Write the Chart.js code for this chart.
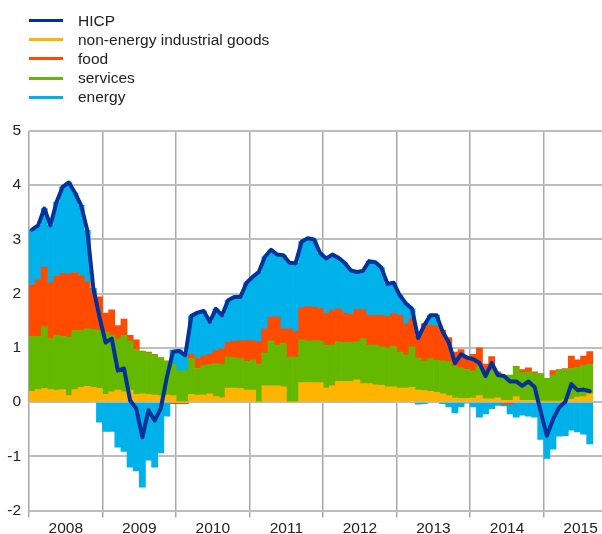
<!DOCTYPE html>
<html>
<head>
<meta charset="utf-8">
<script src="https://cdn.jsdelivr.net/npm/chart.js@4.4.1/dist/chart.umd.min.js"></script>
<style>
  html, body { margin: 0; padding: 0; background: #fff; }
  #wrap { position: relative; width: 602px; height: 534px; }
  #legend { position: absolute; left: 29px; top: 11px; font: 15.5px 'Liberation Sans', Arial, sans-serif; color: #222; }
  .row { display: flex; align-items: center; height: 19.2px; white-space: nowrap; }
  .sw { width: 34px; height: 3px; margin-right: 15px; }
</style>
</head>
<body>
<div id="wrap">
  <canvas id="chart" width="602" height="534"></canvas>
  <div id="legend"></div>
</div>
<script>
// monthly, Jan 2008 .. Aug 2015 (percentage points)
const yearLabels = ['2008', '2009', '2010', '2011', '2012', '2013', '2014', '2015'];

const hicp = [
  3.18, 3.26, 3.57, 3.26, 3.69, 3.97, 4.05, 3.86, 3.63, 3.17, 2.10, 1.57,
  1.10, 1.17, 0.58, 0.62, 0.03, -0.12, -0.65, -0.15, -0.34, -0.12, 0.46, 0.93,
  0.94, 0.86, 1.59, 1.65, 1.68, 1.48, 1.72, 1.60, 1.88, 1.94, 1.94, 2.20,
  2.31, 2.40, 2.68, 2.81, 2.72, 2.71, 2.57, 2.56, 2.96, 3.02, 3.00, 2.75,
  2.65, 2.72, 2.66, 2.57, 2.43, 2.40, 2.42, 2.60, 2.58, 2.48, 2.18, 2.20,
  1.97, 1.82, 1.72, 1.18, 1.42, 1.60, 1.60, 1.30, 1.10, 0.72, 0.88, 0.82,
  0.79, 0.72, 0.48, 0.72, 0.50, 0.48, 0.38, 0.38, 0.30, 0.38, 0.28, -0.18,
  -0.62, -0.32, -0.10, 0.00, 0.33, 0.22, 0.23, 0.20
];

const neig = [
  0.20, 0.23, 0.25, 0.23, 0.22, 0.23, 0.12, 0.23, 0.27, 0.29, 0.27, 0.25,
  0.14, 0.19, 0.22, 0.19, 0.22, 0.14, 0.15, 0.14, 0.13, 0.12, 0.13, 0.12,
  0.00, 0.00, 0.14, 0.13, 0.13, 0.15, 0.10, 0.08, 0.26, 0.26, 0.25, 0.22,
  0.22, 0.00, 0.30, 0.30, 0.30, 0.28, 0.00, 0.00, 0.36, 0.36, 0.36, 0.36,
  0.26, 0.30, 0.38, 0.38, 0.38, 0.41, 0.34, 0.34, 0.32, 0.31, 0.28, 0.28,
  0.26, 0.26, 0.27, 0.22, 0.21, 0.20, 0.18, 0.15, 0.12, 0.08, 0.07, 0.07,
  0.08, 0.12, 0.06, 0.06, 0.08, 0.03, 0.03, 0.10, 0.03, 0.03, 0.03, 0.01,
  0.01, 0.01, 0.01, 0.04, 0.05, 0.09, 0.10, 0.15
];

const services = [
  1.01, 0.98, 1.14, 0.94, 1.01, 0.98, 1.08, 1.09, 1.05, 1.06, 1.07, 1.07,
  1.15, 1.05, 0.94, 1.04, 0.91, 0.83, 0.78, 0.77, 0.74, 0.69, 0.62, 0.58,
  0.58, 0.58, 0.66, 0.49, 0.55, 0.54, 0.61, 0.62, 0.57, 0.56, 0.55, 0.53,
  0.56, 0.70, 0.61, 0.83, 0.75, 0.80, 0.83, 0.83, 0.79, 0.77, 0.77, 0.77,
  0.79, 0.75, 0.73, 0.72, 0.72, 0.70, 0.83, 0.71, 0.73, 0.71, 0.72, 0.75,
  0.66, 0.61, 0.75, 0.59, 0.55, 0.60, 0.59, 0.61, 0.62, 0.58, 0.56, 0.53,
  0.49, 0.54, 0.49, 0.52, 0.44, 0.47, 0.47, 0.55, 0.52, 0.53, 0.50, 0.51,
  0.43, 0.49, 0.57, 0.56, 0.57, 0.55, 0.58, 0.55
];

const food = [
  0.95, 1.04, 1.10, 1.03, 1.09, 1.16, 1.16, 1.07, 1.01, 0.87, 0.69, 0.62,
  0.35, 0.46, 0.25, 0.30, 0.10, 0.18, 0.01, 0.01, 0.01, 0.01, 0.01, -0.03,
  -0.03, -0.03, 0.08, 0.18, 0.17, 0.19, 0.24, 0.28, 0.27, 0.30, 0.33, 0.39,
  0.35, 0.41, 0.44, 0.44, 0.52, 0.27, 0.52, 0.47, 0.59, 0.63, 0.62, 0.60,
  0.58, 0.64, 0.61, 0.54, 0.52, 0.60, 0.53, 0.55, 0.55, 0.58, 0.58, 0.60,
  0.68, 0.57, 0.52, 0.41, 0.69, 0.62, 0.63, 0.57, 0.45, 0.26, 0.34, 0.24,
  0.31, 0.34, 0.15, 0.26, 0.04, -0.04, -0.04, 0.01, 0.05, 0.07, 0.03, 0.00,
  0.00, 0.08, 0.02, 0.02, 0.23, 0.14, 0.17, 0.23
];

const energy = [
  1.02, 1.01, 1.08, 1.06, 1.37, 1.60, 1.69, 1.47, 1.30, 0.95, 0.07, -0.37,
  -0.54, -0.54, -0.83, -0.91, -1.20, -1.27, -1.57, -1.07, -1.20, -0.94, -0.26, 0.26,
  0.39, 0.31, 0.71, 0.85, 0.83, 0.60, 0.77, 0.62, 0.78, 0.82, 0.81, 1.06,
  1.18, 1.29, 1.33, 1.24, 1.15, 1.36, 1.22, 1.26, 1.22, 1.26, 1.25, 1.02,
  1.02, 1.03, 0.94, 0.93, 0.81, 0.69, 0.72, 1.00, 0.98, 0.88, 0.60, 0.57,
  0.37, 0.38, 0.18, -0.04, -0.03, 0.18, 0.20, -0.03, -0.09, -0.20, -0.09, -0.02,
  -0.09, -0.28, -0.22, -0.12, -0.06, -0.03, -0.18, -0.28, -0.24, -0.26, -0.28, -0.69,
  -1.04, -0.87, -0.63, -0.62, -0.52, -0.55, -0.59, -0.77
];

const monthCount = 93.5;
const yearStarts = [0, 12, 24, 36, 48, 60, 72, 84];
const yearMids = [6, 18, 30, 42, 54, 66, 78, 90];

function toPoints(values) {
  return values.map((v, i) => ({x: i + 0.5, y: v}));
}

const fontFamily = "'Liberation Sans', Arial, sans-serif";
Chart.defaults.font.family = fontFamily;
Chart.defaults.color = '#222';

const series = [
  {label: 'non-energy industrial goods', data: neig, color: '#ffb400'},
  {label: 'services', data: services, color: '#65b800'},
  {label: 'food', data: food, color: '#ff4b00'},
  {label: 'energy', data: energy, color: '#00b1ea'}
];

const barSets = series.map((s) => ({
  type: 'bar',
  label: s.label,
  data: toPoints(s.data),
  backgroundColor: s.color,
  borderWidth: 0,
  barPercentage: 1,
  categoryPercentage: 1,
  stack: 'parts',
  order: 1
}));

const lineSet = {
  type: 'line',
  label: 'HICP',
  data: toPoints(hicp),
  borderColor: '#003299',
  borderWidth: 4,
  pointRadius: 0,
  tension: 0,
  borderJoinStyle: 'round',
  borderCapStyle: 'round',
  stack: 'total',
  order: 0
};

new Chart(document.getElementById('chart'), {
  data: {datasets: [lineSet, ...barSets]},
  options: {
    responsive: false,
    animation: false,
    devicePixelRatio: 1,
    layout: {padding: {top: 131, left: 0, right: 0, bottom: 0}},
    plugins: {legend: {display: false}, tooltip: {enabled: false}},
    scales: {
      x: {
        type: 'linear',
        min: 0,
        max: monthCount,
        stacked: true,
        offset: false,
        afterBuildTicks(scale) {
          scale.ticks = yearStarts.map((v) => ({value: v}));
        },
        afterFit(scale) {
          scale.height = 7;
        },
        ticks: {display: false},
        grid: {color: '#a8a8a8', lineWidth: 1.5, drawTicks: true, tickLength: 7, offset: false},
        border: {display: false}
      },
      xYears: {
        type: 'linear',
        position: 'bottom',
        min: 0,
        max: monthCount,
        offset: false,
        afterBuildTicks(scale) {
          scale.ticks = yearMids.map((v) => ({value: v}));
        },
        afterFit(scale) {
          scale.height = 16.5;
        },
        ticks: {
          autoSkip: false,
          maxRotation: 0,
          padding: 2,
          font: {size: 15.5},
          color: '#222',
          callback(value, index) {
            return yearLabels[index];
          }
        },
        grid: {display: false, drawTicks: false, offset: false},
        border: {display: false}
      },
      y: {
        stacked: true,
        min: -2,
        max: 5,
        afterFit(scale) {
          scale.width = 29;
        },
        ticks: {stepSize: 1, padding: 8, font: {size: 15.5}, color: '#222'},
        grid: {color: '#bdbdbd', lineWidth: 2, drawTicks: false},
        border: {display: false}
      }
    }
  }
});

// legend as plain HTML rows, HICP first like the original
const legendItems = [
  {label: 'HICP', color: '#003299'},
  {label: 'non-energy industrial goods', color: '#ffb400'},
  {label: 'food', color: '#ff4b00'},
  {label: 'services', color: '#65b800'},
  {label: 'energy', color: '#00b1ea'}
];
const legendBox = document.getElementById('legend');
legendItems.forEach((item) => {
  const row = document.createElement('div');
  row.className = 'row';
  const sw = document.createElement('span');
  sw.className = 'sw';
  sw.style.background = item.color;
  const txt = document.createElement('span');
  txt.textContent = item.label;
  row.appendChild(sw);
  row.appendChild(txt);
  legendBox.appendChild(row);
});
</script>
</body>
</html>
